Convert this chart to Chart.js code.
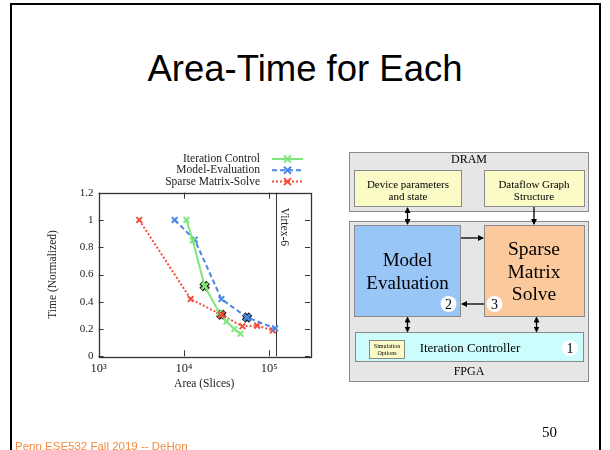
<!DOCTYPE html>
<html>
<head>
<meta charset="utf-8">
<script src="https://cdn.jsdelivr.net/npm/chart.js@4.4.0/dist/chart.umd.min.js"></script>
<style>
    body { margin: 0; background: #fff; width: 610px; height: 450px; overflow: hidden; position: relative; }
    #slide-border { position: absolute; left: 10px; top: 3px; width: 587px; height: 470px; border: 2px solid #000; }
    #title { position: absolute; left: 0; width: 610px; top: 48px; text-align: center; font: 36.5px "Liberation Sans", Arial, sans-serif; color: #000; }
    #footer { position: absolute; left: 15px; top: 440px; font: 11.5px "Liberation Sans", Arial, sans-serif; color: #f58a3c; }
    #page-num { position: absolute; left: 542px; top: 424px; font: 15px "Liberation Serif", serif; color: #000; }
    #chart-wrap { position: absolute; left: 40px; top: 145px; width: 280px; height: 250px; }
    #diagram { position: absolute; left: 0; top: 0; }
</style>
</head>
<body>
<div id="slide-border"></div>
<div id="title">Area-Time for Each</div>
<div id="chart-wrap"><canvas id="atChart" width="280" height="250"></canvas></div>

<svg id="diagram" width="610" height="450" font-family="Liberation Serif, serif">
    <defs>
        <marker id="head" markerWidth="6" markerHeight="6" refX="5" refY="3" orient="auto-start-reverse" markerUnits="userSpaceOnUse">
            <path d="M0,0 L6,3 L0,6 z" fill="#000"/>
        </marker>
    </defs>
    <!-- DRAM -->
    <rect x="349.5" y="152.5" width="239" height="59" fill="#e6e6e6" stroke="#8a8a8a"/>
    <text x="469" y="162.5" font-size="12" text-anchor="middle">DRAM</text>
    <rect x="354.5" y="170.5" width="107" height="36" fill="#fbfbc8" stroke="#8a8a8a"/>
    <text x="408" y="187.5" font-size="11" text-anchor="middle">Device parameters</text>
    <text x="408" y="200" font-size="11" text-anchor="middle">and state</text>
    <rect x="484.5" y="170.5" width="100" height="36" fill="#fbfbc8" stroke="#8a8a8a"/>
    <text x="534" y="187.5" font-size="11" text-anchor="middle">Dataflow Graph</text>
    <text x="534" y="200" font-size="11" text-anchor="middle">Structure</text>

    <!-- FPGA -->
    <rect x="349.5" y="221.5" width="239" height="160" fill="#e6e6e6" stroke="#8a8a8a"/>
    <rect x="354.5" y="225.5" width="106" height="91" fill="#99c6f6" stroke="#8a8a8a"/>
    <text x="407.5" y="266" font-size="19" text-anchor="middle">Model</text>
    <text x="407.5" y="288.5" font-size="19" text-anchor="middle">Evaluation</text>
    <rect x="484.5" y="225.5" width="100" height="91" fill="#fcc99c" stroke="#8a8a8a"/>
    <text x="534" y="255" font-size="19.5" text-anchor="middle">Sparse</text>
    <text x="534" y="277.5" font-size="19.5" text-anchor="middle">Matrix</text>
    <text x="534" y="299.5" font-size="19.5" text-anchor="middle">Solve</text>
    <rect x="355.5" y="332.5" width="228" height="29" fill="#ccfcfc" stroke="#8a8a8a"/>
    <rect x="369.5" y="340.5" width="35" height="18" fill="#fbfbc8" stroke="#8a8a8a"/>
    <text x="387" y="348" font-size="6" text-anchor="middle">Simulation</text>
    <text x="387" y="355" font-size="6" text-anchor="middle">Options</text>
    <text x="470" y="351.5" font-size="13" text-anchor="middle">Iteration Controller</text>
    <text x="469" y="375" font-size="12" text-anchor="middle">FPGA</text>

    <!-- numbered circles -->
    <circle cx="448.5" cy="304" r="8" fill="#fff"/>
    <text x="448.5" y="309" font-size="14" text-anchor="middle">2</text>
    <circle cx="494.5" cy="304" r="8" fill="#fff"/>
    <text x="494.5" y="309" font-size="14" text-anchor="middle">3</text>
    <circle cx="570" cy="348" r="8" fill="#fff"/>
    <text x="570" y="353" font-size="14" text-anchor="middle">1</text>

    <!-- arrows -->
    <g stroke="#000" stroke-width="1.3">
        <line x1="407.5" y1="208" x2="407.5" y2="224" marker-start="url(#head)" marker-end="url(#head)"/>
        <line x1="534" y1="207" x2="534" y2="224" marker-end="url(#head)"/>
        <line x1="461" y1="238" x2="483" y2="238" marker-end="url(#head)"/>
        <line x1="484" y1="304" x2="462" y2="304" marker-end="url(#head)"/>
        <line x1="407.5" y1="317.5" x2="407.5" y2="331.5" marker-start="url(#head)" marker-end="url(#head)"/>
        <line x1="536.5" y1="317.5" x2="536.5" y2="331.5" marker-start="url(#head)" marker-end="url(#head)"/>
    </g>
</svg>

<div id="page-num">50</div>
<div id="footer">Penn ESE532 Fall 2019 -- DeHon</div>

<script>
// Iteration Control (solid green)
const areaIter = [10700, 12700, 17500, 26000, 31500, 39000, 46000];
const timeIter = [1.0, 0.85, 0.515, 0.32, 0.255, 0.2, 0.165];
// Model-Evaluation (dashed blue)
const areaModel = [7800, 13400, 27500, 55000, 117000];
const timeModel = [1.0, 0.855, 0.42, 0.285, 0.205];
// Sparse Matrix-Solve (dotted red)
const areaSparse = [3000, 12000, 27500, 48500, 72000, 110000];
const timeSparse = [1.0, 0.42, 0.305, 0.22, 0.225, 0.19];
// the highlighted (outlined) point of each series
const highlightIter = 2;
const highlightModel = 3;
const highlightSparse = 2;

const virtexArea = 120000;
const virtexLabel = 'Virtex-6';
const xTickLabels = { 1000: '10³', 10000: '10⁴', 100000: '10⁵' };

const SERIF = '"Liberation Serif", "Times New Roman", serif';

function toPoints(xs, ys) {
    return xs.map((x, i) => ({ x: x, y: ys[i] }));
}

function series(label, xs, ys, color, dash) {
    return {
        label: label,
        data: toPoints(xs, ys),
        showLine: true,
        borderColor: color,
        backgroundColor: color,
        borderWidth: 2,
        borderDash: dash,
        pointStyle: 'crossRot',
        pointRadius: 4,
        pointBorderWidth: 2,
        pointBorderColor: color,
        order: 1
    };
}

function highlight(xs, ys, idx, color) {
    return [{
        label: '',
        isHighlight: true,
        data: [{ x: xs[idx], y: ys[idx] }],
        showLine: false,
        pointStyle: 'crossRot',
        pointRadius: 5,
        pointBorderWidth: 5,
        pointBorderColor: '#222',
        order: 20
    }, {
        label: '',
        isHighlight: true,
        data: [{ x: xs[idx], y: ys[idx] }],
        showLine: false,
        pointStyle: 'crossRot',
        pointRadius: 4.5,
        pointBorderWidth: 2.2,
        pointBorderColor: color,
        order: 0
    }];
}

const GREEN = '#80e67a';
const BLUE = '#4b87e6';
const RED = '#f2503c';

// gnuplot-ish frame: box, inward ticks, the Virtex-6 marker line
const framePlugin = {
    id: 'frame',
    beforeDatasetsDraw(chart) {
        const { ctx, chartArea: a, scales } = chart;
        ctx.save();
        ctx.strokeStyle = '#333';
        ctx.lineWidth = 1;
        ctx.beginPath();
        scales.x.ticks.forEach(t => {
            const px = Math.round(scales.x.getPixelForValue(t.value)) + 0.5;
            if (px < a.left || px > a.right) return;
            const len = xTickLabels[t.value] ? 6 : 3;
            ctx.moveTo(px, a.bottom); ctx.lineTo(px, a.bottom - len);
            ctx.moveTo(px, a.top); ctx.lineTo(px, a.top + len);
        });
        scales.y.ticks.forEach(t => {
            const py = Math.round(scales.y.getPixelForValue(t.value)) + 0.5;
            ctx.moveTo(a.left, py); ctx.lineTo(a.left + 5, py);
            ctx.moveTo(a.right, py); ctx.lineTo(a.right - 5, py);
        });
        ctx.stroke();

        // Virtex-6 line
        const vx = Math.round(scales.x.getPixelForValue(virtexArea)) + 0.5;
        ctx.beginPath();
        ctx.moveTo(vx, a.top); ctx.lineTo(vx, a.bottom);
        ctx.stroke();
        ctx.translate(vx + 2, a.top + 15);
        ctx.rotate(Math.PI / 2);
        ctx.fillStyle = '#222';
        ctx.font = '11.5px ' + SERIF;
        ctx.textAlign = 'left';
        ctx.textBaseline = 'bottom';
        ctx.fillText(virtexLabel, 0, 0);
        ctx.restore();

        ctx.save();
        ctx.strokeStyle = '#333';
        ctx.lineWidth = 1.3;
        ctx.strokeRect(Math.round(a.left) + 0.5, Math.round(a.top) + 0.5,
            Math.round(a.right - a.left), Math.round(a.bottom - a.top));
        ctx.restore();
    }
};

// legend in the gnuplot style: label right-aligned, line sample to the right
const keyPlugin = {
    id: 'key',
    afterDraw(chart) {
        const ctx = chart.ctx;
        const textRight = 220;
        const sampleLeft = 232, sampleRight = 263;
        let y = 14;
        ctx.save();
        ctx.font = '11.5px ' + SERIF;
        ctx.textAlign = 'right';
        ctx.textBaseline = 'middle';
        chart.data.datasets.filter(d => !d.isHighlight).forEach(ds => {
            ctx.fillStyle = '#222';
            ctx.fillText(ds.label, textRight, y);
            ctx.strokeStyle = ds.borderColor;
            ctx.lineWidth = 2;
            ctx.setLineDash(ds.borderDash || []);
            ctx.beginPath();
            ctx.moveTo(sampleLeft, y); ctx.lineTo(sampleRight, y);
            ctx.stroke();
            ctx.setLineDash([]);
            const mx = (sampleLeft + sampleRight) / 2, r = 3.5;
            ctx.beginPath();
            ctx.moveTo(mx - r, y - r); ctx.lineTo(mx + r, y + r);
            ctx.moveTo(mx + r, y - r); ctx.lineTo(mx - r, y + r);
            ctx.stroke();
            y += 11.3;
        });
        ctx.restore();
    }
};

const ctx = document.getElementById('atChart').getContext('2d');
new Chart(ctx, {
    type: 'scatter',
    data: {
        datasets: [
            series('Iteration Control', areaIter, timeIter, GREEN, []),
            series('Model-Evaluation', areaModel, timeModel, BLUE, [5, 3]),
            series('Sparse Matrix-Solve', areaSparse, timeSparse, RED, [2, 2]),
            ...highlight(areaIter, timeIter, highlightIter, GREEN),
            ...highlight(areaModel, timeModel, highlightModel, BLUE),
            ...highlight(areaSparse, timeSparse, highlightSparse, RED)
        ]
    },
    options: {
        responsive: false,
        animation: false,
        devicePixelRatio: 1,
        layout: { padding: { top: 47.7, right: 10, left: 0, bottom: 0 } },
        plugins: {
            legend: { display: false },
            tooltip: { enabled: false }
        },
        scales: {
            x: {
                type: 'logarithmic',
                min: 1000,
                max: 300000,
                grid: { display: false, drawTicks: false },
                border: { display: false },
                ticks: {
                    autoSkip: false,
                    maxRotation: 0,
                    padding: 5,
                    color: '#222',
                    font: { family: SERIF, size: 12.5 },
                    callback: v => xTickLabels[v] || null
                },
                title: {
                    display: true,
                    text: 'Area (Slices)',
                    color: '#222',
                    font: { family: SERIF, size: 11.5 },
                    padding: { top: 0, bottom: 4 }
                },
                afterFit: s => { s.height = 38.7; }
            },
            y: {
                min: 0,
                max: 1.2,
                grid: { display: false, drawTicks: false },
                border: { display: false },
                ticks: {
                    stepSize: 0.2,
                    padding: 5,
                    color: '#222',
                    font: { family: SERIF, size: 11 },
                    callback: v => String(Math.round(v * 10) / 10)
                },
                title: {
                    display: true,
                    text: 'Time (Normalized)',
                    color: '#222',
                    font: { family: SERIF, size: 11.5 },
                    padding: { top: 6, bottom: 0 }
                },
                afterFit: s => { s.width = 58.5; }
            }
        }
    },
    plugins: [framePlugin, keyPlugin]
});
</script>
</body>
</html>
